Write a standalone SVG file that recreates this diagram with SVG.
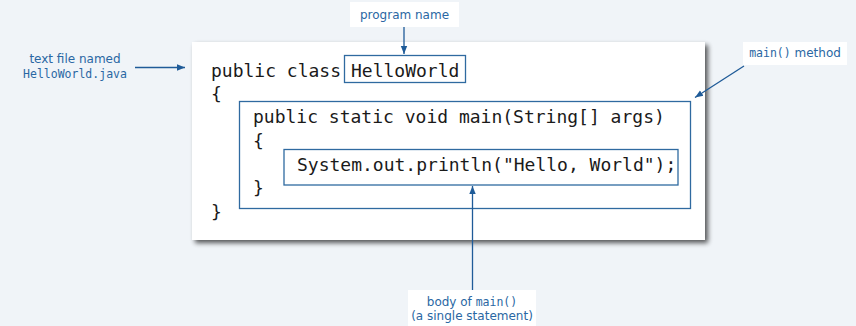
<svg xmlns="http://www.w3.org/2000/svg" width="856" height="326" viewBox="0 0 856 326">
<defs>
<filter id="sh" x="-5%" y="-5%" width="115%" height="120%">
<feGaussianBlur in="SourceAlpha" stdDeviation="2.5"/>
<feOffset dx="3" dy="3" result="b"/>
<feComponentTransfer><feFuncA type="linear" slope="0.65"/></feComponentTransfer>
<feMerge><feMergeNode/><feMergeNode in="SourceGraphic"/></feMerge>
</filter>
<marker id="ah" viewBox="0 0 10 10" refX="10" refY="5" markerWidth="8" markerHeight="8" markerUnits="userSpaceOnUse" orient="auto">
<path d="M0,1 L10,5 L0,9 Z" fill="#1f5b98"/>
</marker>
</defs>
<style>
.code{font-family:"DejaVu Sans Mono","Liberation Mono",monospace;font-size:18px;fill:#1a1a1a}
.lbl{font-family:"DejaVu Sans","Liberation Sans",sans-serif;font-size:12px;fill:#2a67a3}
.mono{font-family:"DejaVu Sans Mono","Liberation Mono",monospace;font-size:11.5px}
.box{fill:none;stroke:#2f6aa0;stroke-width:1.3}
.lblbg{fill:#fff}
.conn{stroke:#1f5b98;stroke-width:1.3;fill:none;marker-end:url(#ah)}
</style>
<rect width="856" height="326" fill="#f0f4f8"/>
<g id="program">
<rect x="192" y="42" width="513" height="198" fill="#fff" filter="url(#sh)"/>
<text class="code" x="211" y="77">public class</text>
<text class="code" x="211" y="100">{</text>
<text class="code" x="211" y="218">}</text>
</g>
<g id="classname">
<rect class="box" x="344.5" y="55.5" width="121" height="27"/>
<text class="code" x="351" y="77">HelloWorld</text>
</g>
<g id="mainmethod">
<rect class="box" x="239.5" y="101.5" width="451" height="107"/>
<text class="code" x="253" y="123">public static void main(String[] args)</text>
<text class="code" x="253" y="147">{</text>
<text class="code" x="253" y="194">}</text>
</g>
<g id="body">
<rect class="box" x="284" y="149.5" width="394" height="35.5"/>
<text class="code" x="297" y="171">System.out.println("Hello, World");</text>
</g>
<g id="label-file">
<text class="lbl" x="75" y="63" text-anchor="middle">text file named</text>
<text class="lbl mono" x="75" y="78" text-anchor="middle">HelloWorld.java</text>
</g>
<g id="label-name">
<rect class="lblbg" x="350" y="2" width="109" height="25"/>
<text class="lbl" x="404.5" y="19" text-anchor="middle">program name</text>
</g>
<g id="label-main">
<rect class="lblbg" x="743" y="42" width="104" height="23"/>
<text class="lbl" x="795" y="57" text-anchor="middle"><tspan class="mono">main()</tspan> method</text>
</g>
<g id="label-body">
<rect class="lblbg" x="408" y="290" width="128" height="36"/>
<text class="lbl" x="472" y="306" text-anchor="middle">body of <tspan class="mono">main()</tspan></text>
<text class="lbl" x="472" y="320" text-anchor="middle">(a single statement)</text>
</g>
<g id="connectors">
<line class="conn" x1="135" y1="67.5" x2="185" y2="67.5"/>
<line class="conn" x1="404" y1="27" x2="404" y2="54"/>
<line class="conn" x1="744" y1="66" x2="695" y2="97.5"/>
<line class="conn" x1="472.5" y1="290" x2="472.5" y2="186"/>
</g>
</svg>
